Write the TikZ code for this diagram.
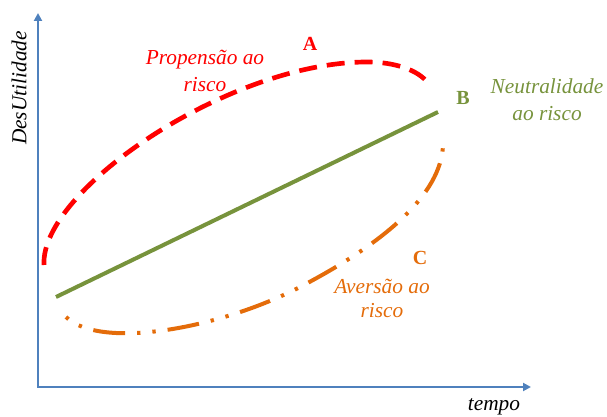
\documentclass[tikz,border=0pt]{standalone}
\usepackage{fontspec}
\setmainfont{Liberation Serif}
\usetikzlibrary{arrows.meta}

\tikzset{every picture/.style={line width=0.75pt}}
\tikzset{
axisline/.style={color={rgb, 255:red, 79; green, 129; blue, 189 }, line width=1.5pt},
axistip/.style={{Triangle[length=6pt,width=6pt]}-{Triangle[length=6pt,width=6pt]}},
riskline/.style={line width=3pt, line cap=butt},
labeltext/.style={font=\fontsize{16}{20}\selectfont\itshape, align=center, inner sep=0.75pt},
pointletter/.style={font=\fontsize{15}{18}\selectfont\bfseries, inner sep=0.75pt}}

\begin{document}
\begin{tikzpicture}[x=0.75pt,y=0.75pt,yscale=-1,xscale=1]
\useasboundingbox (0,0) rectangle (607,417);

%Shape: Axis 2D
\coordinate (origin) at (38,387);
\coordinate (ytop) at (38,13);
\coordinate (xend) at (531,387);
\draw [axisline, axistip] (ytop) -- (origin) -- (xend);

%Straight Lines: neutralidade
\coordinate (gstart) at (56,297);
\coordinate (gend) at (438,112);
\draw [riskline, color={rgb, 255:red, 119; green, 147; blue, 60 }] (gstart) -- (gend);

%Curve Lines: propensao
\draw [riskline, line width=3.5pt, color={rgb, 255:red, 255; green, 0; blue, 0 }, dash pattern={on 13.5pt off 7.5pt}] (44,265) .. controls (40,190) and (230,62) .. (367,62) .. controls (395,62) and (418,70) .. (428,83) ;

%Curve Lines: aversao
\draw [riskline, color={rgb, 255:red, 228; green, 108; blue, 10 }, dash pattern={on 2.5pt off 9pt on 2.5pt off 9pt on 24pt off 9pt}] (66,317) .. controls (100,350) and (219,329) .. (300,287) .. controls (390,240) and (445,190) .. (443,140) ;

% Text Node
\node [labeltext, color={rgb, 255:red, 255; green, 0; blue, 0 }] (propensao) at (205,71) {Propensão ao\\risco};
% Text Node
\node [pointletter, color={rgb, 255:red, 255; green, 0; blue, 0 }] (ptA) at (310,44) {A};
% Text Node
\node [pointletter, color={rgb, 255:red, 119; green, 147; blue, 60 }] (ptB) at (463,98) {B};
% Text Node
\node [labeltext, color={rgb, 255:red, 119; green, 147; blue, 60 }] (neutral) at (547,100) {Neutralidade\\ao risco};
% Text Node
\node [pointletter, color={rgb, 255:red, 228; green, 108; blue, 10 }] (ptC) at (420,258) {C};
% Text Node
\node [labeltext, font=\fontsize{16}{18}\selectfont\itshape, color={rgb, 255:red, 228; green, 108; blue, 10 }] (aversao) at (382,298) {Aversão ao\\risco};
% Text Node
\node [labeltext, rotate=90] (desutil) at (19,88) {DesUtilidade};
% Text Node
\node [labeltext] (tempo) at (494,407) {tempo};

\end{tikzpicture}
\end{document}
